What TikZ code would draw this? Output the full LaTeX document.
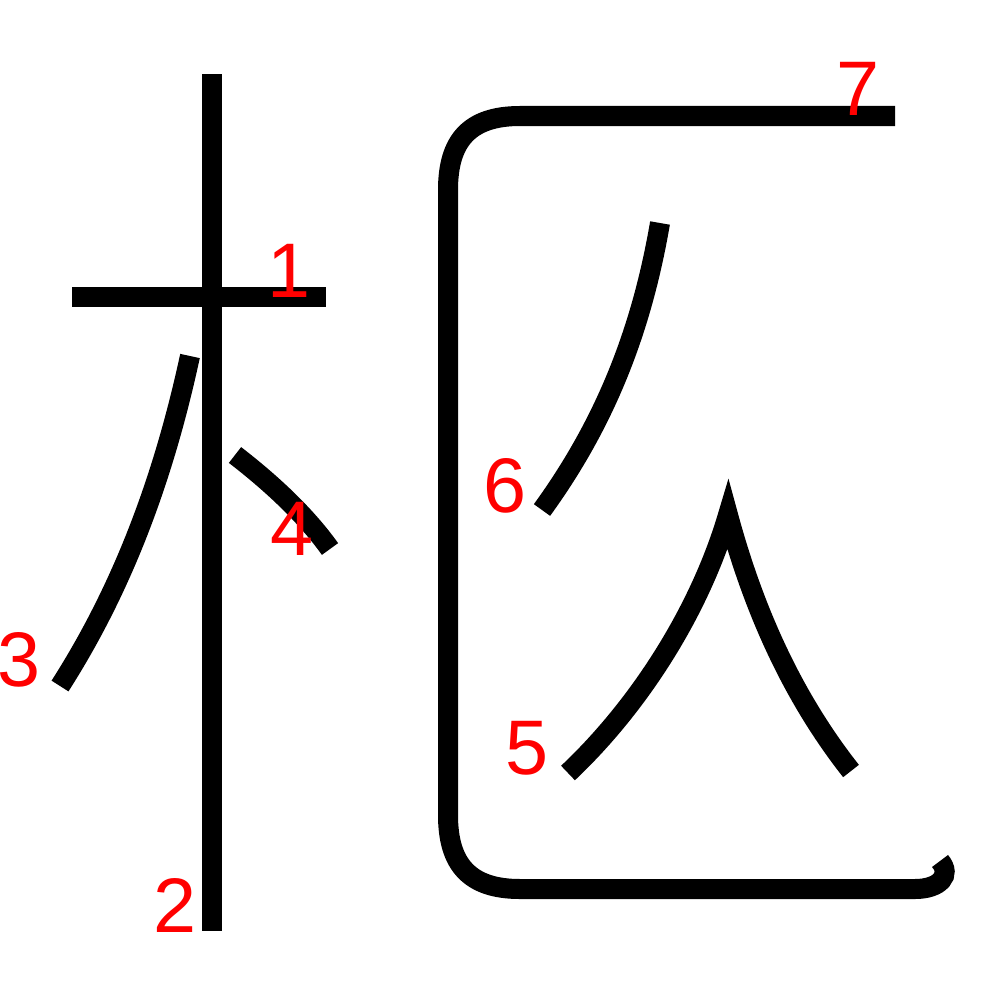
\documentclass[tikz,border=0pt]{standalone}
\usepackage{fontspec}
\setmainfont{Liberation Sans}
\begin{document}
\begin{tikzpicture}[x=0.01cm,y=-0.01cm,
  strk/.style={line width=0.2cm,black},
  num/.style={text=red,font=\fontsize{22pt}{26pt}\selectfont,inner sep=0pt}]
\useasboundingbox (0,0) rectangle (1000,1000);
% stroke 1
\draw[strk] (72,297) -- (326,297);
% stroke 2
\draw[strk] (212,74) -- (212,931);
% stroke 3
\draw[strk] (190,356) .. controls (160,495) and (115,600) .. (60,686);
% stroke 4
\draw[strk] (235,455) .. controls (270,482) and (305,514) .. (330,549);
% stroke 5
\draw[strk,miter limit=20] (568,773) .. controls (640,705) and (700,610) .. (728,515)
   .. controls (755,615) and (795,700) .. (851,771);
% stroke 6
\draw[strk] (660,223) .. controls (640,340) and (600,430) .. (542,510);
% stroke 7
\draw[strk] (895,116) -- (520,116) .. controls (470,116) and (448,140) .. (448,190)
  -- (448,815) .. controls (448,865) and (470,889) .. (520,889)
  -- (915,889) .. controls (940,889) and (952,875) .. (940,861);
% labels
\node[num] (n1) at (289,271) {1};
\node[num] (n2) at (175,905) {2};
\node[num] (n3) at (19,660) {3};
\node[num] (n4) at (292,529) {4};
\node[num] (n5) at (527,748) {5};
\node[num] (n6) at (505,486) {6};
\node[num] (n7) at (858,89) {7};
\end{tikzpicture}
\end{document}
